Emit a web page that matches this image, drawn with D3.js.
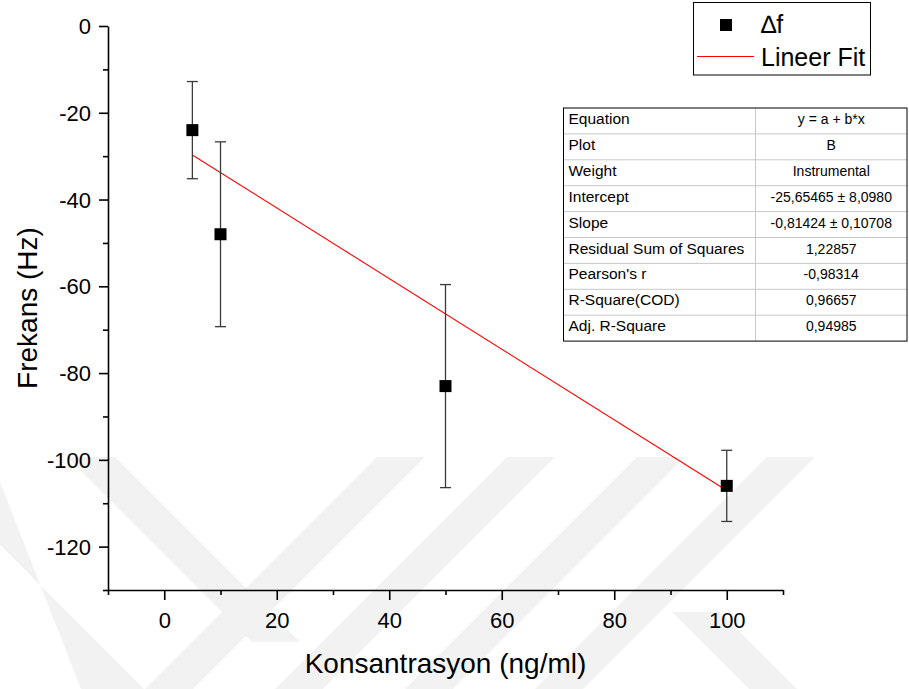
<!DOCTYPE html>
<html>
<head>
<meta charset="utf-8">
<script src="https://cdn.jsdelivr.net/npm/d3@7"></script>
<style>
  body { margin: 0; background: #fff; }
  text { font-family: Arial, "Liberation Sans", sans-serif; fill: #000; }
</style>
</head>
<body>
<div id="chart"></div>
<script>
// veriler
const konsantrasyon = [5, 10, 50, 100];
const frekans = [-24, -48, -83, -106];
const hata = [11.2, 21.3, 23.4, 8.2];

const fitIntercept = -25.65465;
const fitSlope = -0.81424;
const fitRange = [5, 100];

const xMajor = [0, 20, 40, 60, 80, 100];
const xMinor = [-10, 10, 30, 50, 70, 90, 110];
const yMajor = [0, -20, -40, -60, -80, -100, -120];
const yMinor = [-10, -30, -50, -70, -90, -110, -130];

const tableLabels = ["Equation", "Plot", "Weight", "Intercept", "Slope",
  "Residual Sum of Squares", "Pearson's r", "R-Square(COD)", "Adj. R-Square"];
const tableValues = ["y = a + b*x", "B", "Instrumental", "-25,65465 \u00b1 8,0980",
  "-0,81424 \u00b1 0,10708", "1,22857", "-0,98314", "0,96657", "0,94985"];

const W = 909, H = 689;

const svg = d3.select("#chart")
  .append("svg")
  .attr("width", W)
  .attr("height", H);

// arka plandaki soluk filigran
const wm = svg.append("g").attr("fill", "#f2f2f2");
const slashBands = [377, 507, 637, 767];
slashBands.forEach(xl => {
  wm.append("polygon").attr("points",
    `${xl},457 ${xl + 48},457 ${xl + 48 - 232},689 ${xl - 232},689`);
});
wm.append("polygon").attr("points", "67,457 115,457 300,642 252,642");
wm.append("polygon").attr("points", "0,482 0,545 144,689 81,689");
wm.append("polygon").attr("points", "672,612 720,612 797,689 749,689");

const x = d3.scaleLinear().domain([-10, 110]).range([108, 783]);
const y = d3.scaleLinear().domain([-130, 0]).range([590, 26]);

const fmt = d => String(d); // düz tire ile

// eksenler
const xAxis = svg.append("g")
  .attr("transform", `translate(0,${y(-130)})`)
  .call(d3.axisBottom(x).tickValues(xMajor).tickSize(10).tickSizeOuter(0).tickFormat(fmt));
xAxis.selectAll("text")
  .attr("y", 38).attr("dy", null)
  .attr("font-size", "22px").attr("font-family", "Arial, 'Liberation Sans', sans-serif");

svg.append("g")
  .attr("transform", `translate(0,${y(-130)})`)
  .call(d3.axisBottom(x).tickValues(xMinor).tickSize(5).tickFormat(""))
  .select(".domain").remove();

const yAxis = svg.append("g")
  .attr("transform", `translate(${x(-10)},0)`)
  .call(d3.axisLeft(y).tickValues(yMajor).tickSize(9).tickSizeOuter(0).tickFormat(fmt));
yAxis.selectAll("text")
  .attr("x", -17).attr("dy", "0.34em")
  .attr("font-size", "22px").attr("font-family", "Arial, 'Liberation Sans', sans-serif");

svg.append("g")
  .attr("transform", `translate(${x(-10)},0)`)
  .call(d3.axisLeft(y).tickValues(yMinor).tickSize(5).tickFormat(""))
  .select(".domain").remove();

svg.selectAll(".domain, .tick line")
  .attr("stroke", "#000")
  .attr("stroke-width", 1.6);

// eksen başlıkları
svg.append("text")
  .attr("x", (x(-10) + x(110)) / 2)
  .attr("y", 673)
  .attr("text-anchor", "middle")
  .attr("font-size", "28px")
  .text("Konsantrasyon (ng/ml)");

svg.append("text")
  .attr("transform", `translate(37,${(y(0) + y(-130)) / 2}) rotate(-90)`)
  .attr("text-anchor", "middle")
  .attr("font-size", "28px")
  .text("Frekans (Hz)");

// fit çizgisi
svg.append("line")
  .attr("x1", x(fitRange[0]))
  .attr("y1", y(fitIntercept + fitSlope * fitRange[0]))
  .attr("x2", x(fitRange[1]))
  .attr("y2", y(fitIntercept + fitSlope * fitRange[1]))
  .attr("stroke", "#ff0000")
  .attr("stroke-width", 1.1);

// hata çubukları
const points = konsantrasyon.map((k, i) => ({ k: k, f: frekans[i], e: hata[i] }));

const err = svg.append("g")
  .attr("stroke", "#3a3a3a")
  .attr("stroke-width", 1.3);

err.selectAll("line.v")
  .data(points)
  .enter().append("line")
  .attr("x1", d => x(d.k)).attr("x2", d => x(d.k))
  .attr("y1", d => y(d.f + d.e)).attr("y2", d => y(d.f - d.e));

err.selectAll("line.top")
  .data(points)
  .enter().append("line")
  .attr("x1", d => x(d.k) - 5.5).attr("x2", d => x(d.k) + 5.5)
  .attr("y1", d => y(d.f + d.e)).attr("y2", d => y(d.f + d.e));

err.selectAll("line.bot")
  .data(points)
  .enter().append("line")
  .attr("x1", d => x(d.k) - 5.5).attr("x2", d => x(d.k) + 5.5)
  .attr("y1", d => y(d.f - d.e)).attr("y2", d => y(d.f - d.e));

// kare işaretler
svg.append("g").selectAll("rect")
  .data(points)
  .enter().append("rect")
  .attr("x", d => x(d.k) - 6)
  .attr("y", d => y(d.f) - 6)
  .attr("width", 12)
  .attr("height", 12)
  .attr("fill", "#000");

// lejant
const leg = svg.append("g");
leg.append("rect")
  .attr("x", 693.5).attr("y", 2.5)
  .attr("width", 177).attr("height", 72.5)
  .attr("fill", "#fff").attr("stroke", "#000").attr("stroke-width", 1);
leg.append("rect")
  .attr("x", 720).attr("y", 19)
  .attr("width", 12).attr("height", 12)
  .attr("fill", "#000");
leg.append("text")
  .attr("x", 761).attr("y", 33)
  .attr("font-size", "25px")
  .text("\u2206f");
leg.append("line")
  .attr("x1", 697).attr("x2", 754)
  .attr("y1", 56.5).attr("y2", 56.5)
  .attr("stroke", "#ff0000").attr("stroke-width", 1.1);
leg.append("text")
  .attr("x", 761).attr("y", 66)
  .attr("font-size", "25px")
  .text("Lineer Fit");

// fit tablosu
const tLeft = 563.5, tRight = 907, tSplit = 755.5, tTop = 108, rowH = 25.9;
const tab = svg.append("g");
tab.append("rect")
  .attr("x", tLeft).attr("y", tTop)
  .attr("width", tRight - tLeft).attr("height", rowH * tableLabels.length)
  .attr("fill", "#fff");

tab.selectAll("line.row")
  .data(d3.range(1, tableLabels.length))
  .enter().append("line")
  .attr("x1", tLeft).attr("x2", tRight)
  .attr("y1", i => tTop + i * rowH).attr("y2", i => tTop + i * rowH)
  .attr("stroke", "#c8c8c8").attr("stroke-width", 1);

tab.append("line")
  .attr("x1", tSplit).attr("x2", tSplit)
  .attr("y1", tTop).attr("y2", tTop + rowH * tableLabels.length)
  .attr("stroke", "#c8c8c8").attr("stroke-width", 1);

tab.append("rect")
  .attr("x", tLeft).attr("y", tTop)
  .attr("width", tRight - tLeft).attr("height", rowH * tableLabels.length)
  .attr("fill", "none").attr("stroke", "#000").attr("stroke-width", 1);

tab.selectAll("text.lbl")
  .data(tableLabels)
  .enter().append("text")
  .attr("x", tLeft + 5)
  .attr("y", (d, i) => tTop + i * rowH + 16)
  .attr("font-size", "15.5px")
  .text(d => d);

tab.selectAll("text.val")
  .data(tableValues)
  .enter().append("text")
  .attr("x", (tSplit + tRight) / 2)
  .attr("y", (d, i) => tTop + i * rowH + 16)
  .attr("text-anchor", "middle")
  .attr("font-size", "14px")
  .text(d => d);
</script>
</body>
</html>
